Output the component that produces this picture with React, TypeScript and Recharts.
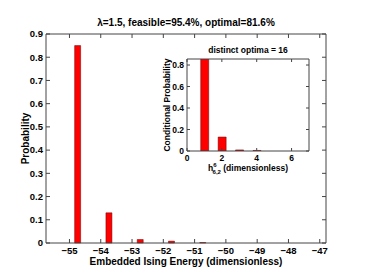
import { Bar, BarChart, Label, XAxis, YAxis } from "recharts";

const energies = [-54.75, -53.75, -52.75, -51.75, -50.75];
const probabilities = [0.85, 0.13, 0.015, 0.008, 0.002];
const energyTicks = [-55, -54, -53, -52, -51, -50, -49, -48, -47];
const probTicks = [0, 0.1, 0.2, 0.3, 0.4, 0.5, 0.6, 0.7, 0.8, 0.9];

const hammingValues = [1, 2, 3, 4];
const conditionalProbs = [0.86, 0.13, 0.01, 0.005];
const hammingTicks = [0, 2, 4, 6];
const condTicks = [0, 0.2, 0.4, 0.6, 0.8];

const mainData = energies.map((e, i) => ({ e, p: probabilities[i] }));
const insetData = hammingValues.map((h, i) => ({ h, p: conditionalProbs[i] }));

const font = "'Liberation Sans', Arial, sans-serif";
const tickStyle = { fontSize: 9.5, fontWeight: 700, fill: "#000", fontFamily: font };
const smallTick = { fontSize: 8.5, fontWeight: 700, fill: "#000", fontFamily: font };
const axisStroke = "#444";
const minus = (v: number) => String(v).replace("-", "\u2212");
const blank = () => "";

export default function App() {
  return (
    <div style={{ position: "absolute", left: 0, top: 0, width: 373, height: 276, background: "#fff" }}>
      <BarChart
        width={373}
        height={276}
        data={mainData}
        margin={{ top: 33, right: 46, left: 0, bottom: 3 }}
      >
        <XAxis
          dataKey="e"
          type="number"
          domain={[-55.75, -46.8]}
          ticks={energyTicks}
          tickFormatter={minus}
          allowDataOverflow
          height={30}
          stroke={axisStroke}
          tick={tickStyle}
          tickSize={-4}
          tickMargin={8}
        >
          <Label
            value="Embedded Ising Energy (dimensionless)"
            position="insideBottom"
            offset={8}
            style={{ fontSize: 10, fontWeight: 700, fill: "#000", fontFamily: font }}
          />
        </XAxis>
        <XAxis
          xAxisId="top"
          dataKey="e"
          orientation="top"
          type="number"
          domain={[-55.75, -46.8]}
          ticks={energyTicks}
          tickFormatter={blank}
          allowDataOverflow
          height={1}
          stroke={axisStroke}
          tick={{ fontSize: 1 }}
          tickSize={-4}
        >
          <Label
            value="λ=1.5, feasible=95.4%, optimal=81.6%"
            position="top"
            offset={7}
            style={{ fontSize: 10, fontWeight: 700, fill: "#000", fontFamily: font }}
          />
        </XAxis>
        <YAxis
          type="number"
          domain={[0, 0.9]}
          ticks={probTicks}
          width={46}
          stroke={axisStroke}
          tick={tickStyle}
          tickSize={-4}
          tickMargin={7}
        >
          <Label
            value="Probability"
            position="center"
            angle={-90}
            dx={2}
            style={{ fontSize: 10, fontWeight: 700, fill: "#000", fontFamily: font }}
          />
        </YAxis>
        <YAxis
          yAxisId="right"
          dataKey="p"
          orientation="right"
          type="number"
          domain={[0, 0.9]}
          ticks={probTicks}
          tickFormatter={blank}
          width={1}
          stroke={axisStroke}
          tick={{ fontSize: 1 }}
          tickSize={-4}
        />
        <Bar dataKey="p" fill="#ff0000" stroke="#600" strokeWidth={0.5} barSize={6} isAnimationActive={false} />
      </BarChart>

      <div style={{ position: "absolute", left: 150, top: 40 }}>
        <BarChart
          width={170}
          height={140}
          data={insetData}
          margin={{ top: 18, right: 10, left: 0, bottom: 0 }}
        >
          <XAxis
            dataKey="h"
            type="number"
            domain={[0, 7]}
            ticks={hammingTicks}
            allowDataOverflow
            height={29}
            stroke={axisStroke}
            tick={smallTick}
            tickSize={-3}
            tickMargin={7}
          >
            <Label
              position="insideBottom"
              content={({ viewBox }: any) => {
                const cx = viewBox.x + viewBox.width / 2;
                const y = viewBox.y + 20;
                return (
                  <text x={cx} y={y} textAnchor="middle" fontFamily={font} fontWeight={700} fontSize={8.5} fill="#000">
                    h
                    <tspan fontSize={6} dy={-4}>6</tspan>
                    <tspan fontSize={6} dx={-4} dy={7}>6,2</tspan>
                    <tspan fontSize={8.5} dy={-3}> (dimensionless)</tspan>
                  </text>
                );
              }}
            />
          </XAxis>
          <XAxis
            xAxisId="top"
            dataKey="h"
            orientation="top"
            type="number"
            domain={[0, 7]}
            ticks={hammingTicks}
            tickFormatter={blank}
            height={1}
            stroke={axisStroke}
            tick={{ fontSize: 1 }}
            tickSize={-3}
          >
            <Label
              value="distinct optima = 16"
              position="top"
              offset={5}
              style={{ fontSize: 8.5, fontWeight: 700, fill: "#000", fontFamily: font }}
            />
          </XAxis>
          <YAxis
            type="number"
            domain={[0, 0.856]}
            ticks={condTicks}
            allowDataOverflow
            width={37}
            stroke={axisStroke}
            tick={smallTick}
            tickSize={-3}
            tickMargin={6}
          >
            <Label
              position="insideLeft"
              content={({ viewBox }: any) => {
                const x = viewBox.x + 20;
                const y = viewBox.y + viewBox.height / 2;
                return (
                  <text
                    x={x}
                    y={y}
                    transform={`rotate(-90 ${x} ${y})`}
                    textAnchor="middle"
                    fontFamily={font}
                    fontWeight={700}
                    fontSize={8.5}
                    fill="#000"
                  >
                    Conditional Probability
                  </text>
                );
              }}
            />
          </YAxis>
          <YAxis
            yAxisId="right"
            dataKey="p"
            orientation="right"
            type="number"
            domain={[0, 0.856]}
            ticks={condTicks}
            tickFormatter={blank}
            allowDataOverflow
            width={1}
            stroke={axisStroke}
            tick={{ fontSize: 1 }}
            tickSize={-3}
          />
          <Bar dataKey="p" fill="#ff0000" stroke="#600" strokeWidth={0.5} barSize={8} isAnimationActive={false} />
        </BarChart>
      </div>
    </div>
  );
}
